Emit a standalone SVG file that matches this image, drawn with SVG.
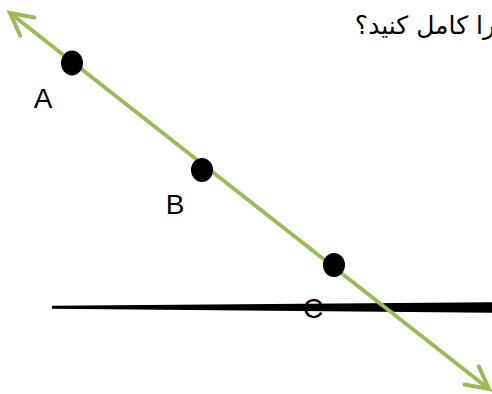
<svg xmlns="http://www.w3.org/2000/svg" width="492" height="394" viewBox="0 0 492 394">
  <style>
    .lbl { font-family: "Liberation Sans", Arial, sans-serif; font-size: 28px; fill: #000; text-anchor: middle; }
    .fa { font-family: "DejaVu Sans", "Noto Sans", sans-serif; font-size: 25px; fill: #000; }
    .dot { fill: #000; }
    .green { stroke: #9BBB59; stroke-width: 4; fill: none; }
  </style>
  <defs>
    <marker id="arr" markerUnits="userSpaceOnUse" markerWidth="40" markerHeight="40" refX="0" refY="0" viewBox="-30 -20 40 40" orient="auto-start-reverse" overflow="visible">
      <path d="M-22,-11.5 L0,0 L-22,11.5" fill="none" stroke="#9BBB59" stroke-width="4" stroke-linejoin="miter" stroke-linecap="round"/>
    </marker>
  </defs>
  <rect width="492" height="394" fill="#fff"/>
  <text id="title" class="fa" x="495" y="34" text-anchor="end">را کامل کنید؟</text>
  <polygon id="line-l" points="52,305.8 492,302.3 492,312.7 52,308.8" fill="#000"/>
  <g id="node-C-label"><text class="lbl" x="313" y="318">C</text></g>
  <g id="connectors">
    <line class="green" x1="10" y1="13" x2="489" y2="389" marker-start="url(#arr)" marker-end="url(#arr)"/>
  </g>
  <g id="node-A">
    <ellipse class="dot" cx="72" cy="63" rx="11" ry="12.5"/>
    <text class="lbl" x="43" y="108">A</text>
  </g>
  <g id="node-B">
    <ellipse class="dot" cx="202" cy="170" rx="11" ry="12"/>
    <text class="lbl" x="175" y="214">B</text>
  </g>
  <g id="node-C">
    <ellipse class="dot" cx="334" cy="265" rx="11" ry="12"/>
  </g>
</svg>
